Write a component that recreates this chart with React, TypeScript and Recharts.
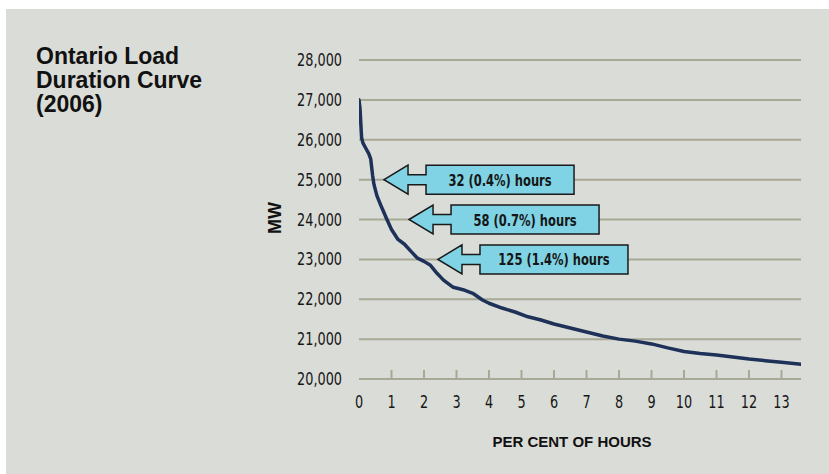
import React from "react";
import {
  LineChart,
  Line,
  XAxis,
  YAxis,
  CartesianGrid,
  ReferenceDot,
} from "recharts";

// Per cent of hours in the year (x) vs. Ontario load in MW (y)
const pctHours = [
  0, 0.03, 0.08, 0.12, 0.2, 0.3, 0.36, 0.42, 0.46, 0.55, 0.7, 0.86, 1.0, 1.2,
  1.4, 1.6, 1.8, 2.0, 2.2, 2.4, 2.6, 2.9, 3.2, 3.5, 3.8, 4.0, 4.4, 4.8, 5.2,
  5.6, 6.0, 6.5, 7.0, 7.5, 8.0, 8.5, 9.0, 9.5, 10.0, 10.5, 11.0, 11.5, 12.0,
  12.5, 13.0, 13.6,
];
const loadMW = [
  27000, 26800, 26050, 25920, 25800, 25650, 25520, 25100, 24880, 24600, 24300,
  24000, 23750, 23500, 23380, 23200, 23030, 22950, 22850, 22650, 22480, 22300,
  22240, 22150, 21980, 21900, 21780, 21680, 21560, 21480, 21380, 21280, 21180,
  21080, 21000, 20950, 20880, 20780, 20690, 20640, 20600, 20550, 20500, 20460,
  20420, 20370,
];

const yTicks = [20000, 21000, 22000, 23000, 24000, 25000, 26000, 27000, 28000];
const xTicks = [0, 1, 2, 3, 4, 5, 6, 7, 8, 9, 10, 11, 12, 13];

// callout arrows: label, and the point the arrow tip sits on
const calloutLabels = ["32 (0.4%) hours", "58 (0.7%) hours", "125 (1.4%) hours"];
const calloutX = [0.77, 1.54, 2.43];
const calloutY = [25000, 24000, 23000];

const data = pctHours.map((p, i) => ({ pct: p, mw: loadMW[i] }));

const BG = "#dadcd7";
const GRID = "#a8a995";
const LINE = "#1e3158";
const CYAN = "#7fd3e4";
const NARROW = "'DejaVu Sans Condensed', 'Liberation Sans Narrow', sans-serif";
const BOLD = "'Liberation Sans', Arial, sans-serif";

// squeeze text horizontally to get a tall, narrow face
const Squeezed = ({ x, y, anchor, size, bold, sx, children }: any) => (
  <text
    transform={`translate(${x},${y}) scale(${sx},1)`}
    textAnchor={anchor}
    fill="#161616"
    fontFamily={NARROW}
    fontWeight={bold ? "bold" : "normal"}
    fontSize={size}
  >
    {children}
  </text>
);

const XTick = (props: any) => {
  const { x, y, payload } = props;
  const axisY = y - 16;
  return (
    <g>
      {payload.value > 0 && (
        <line x1={x} x2={x} y1={axisY} y2={axisY - 9} stroke={GRID} strokeWidth={2} />
      )}
      <Squeezed x={x} y={y + 13} anchor="middle" size={17} sx={0.84}>
        {payload.value}
      </Squeezed>
    </g>
  );
};

const YTick = (props: any) => {
  const { x, y, payload } = props;
  return (
    <Squeezed x={x} y={y + 6} anchor="end" size={17} sx={0.84}>
      {payload.value.toLocaleString("en-US")}
    </Squeezed>
  );
};

const Callout = (label: string) => (props: any) => {
  const { cx, cy } = props;
  const head = 24;
  const shaft = 18;
  const box = 148;
  const h = 14.5;
  const s = 5;
  const x1 = cx + head;
  const x2 = x1 + shaft;
  const x3 = x2 + box;
  const pts = [
    [cx, cy],
    [x1, cy - h],
    [x1, cy - s],
    [x2, cy - s],
    [x2, cy - h],
    [x3, cy - h],
    [x3, cy + h],
    [x2, cy + h],
    [x2, cy + s],
    [x1, cy + s],
    [x1, cy + h],
  ]
    .map((p) => p.join(","))
    .join(" ");
  return (
    <g>
      <polygon points={pts} fill={CYAN} stroke="#1a1a1a" strokeWidth={1.5} />
      <Squeezed x={x2 + box / 2} y={cy + 6} anchor="middle" size={16} bold sx={0.8}>
        {label}
      </Squeezed>
    </g>
  );
};

export default function App() {
  return (
    <div
      style={{
        position: "absolute",
        left: 0,
        top: 0,
        width: 829,
        height: 474,
        background: "#fff",
        overflow: "hidden",
      }}
    >
      <div
        style={{
          position: "absolute",
          left: 6,
          top: 9,
          width: 823,
          height: 465,
          background: BG,
        }}
      />
      <div
        style={{
          position: "absolute",
          left: 36,
          top: 44,
          fontFamily: BOLD,
          fontWeight: "bold",
          fontSize: 23,
          lineHeight: "24px",
          color: "#111",
        }}
      >
        Ontario Load
        <br />
        Duration Curve
        <br />
        (2006)
      </div>
      <div
        style={{
          position: "absolute",
          left: 275,
          top: 218,
          transform: "translate(-50%, -50%) rotate(-90deg)",
          fontFamily: BOLD,
          fontWeight: "bold",
          fontSize: 18,
          color: "#111",
        }}
      >
        MW
      </div>
      <div
        style={{
          position: "absolute",
          left: 572,
          top: 441,
          transform: "translate(-50%, -50%)",
          fontFamily: BOLD,
          fontWeight: "bold",
          fontSize: 15,
          color: "#111",
          whiteSpace: "nowrap",
        }}
      >
        PER CENT OF HOURS
      </div>
      <div style={{ position: "absolute", left: 0, top: 0 }}>
        <LineChart
          width={829}
          height={474}
          data={data}
          margin={{ top: 60, right: 28, bottom: 65, left: 299 }}
        >
          <CartesianGrid
            horizontal
            vertical={false}
            stroke={GRID}
            strokeWidth={2}
          />
          <XAxis
            dataKey="pct"
            type="number"
            domain={[0, 13.6]}
            ticks={xTicks}
            height={30}
            axisLine={false}
            tickLine={false}
            tickSize={0}
            tickMargin={16}
            tick={<XTick />}
            allowDataOverflow
          />
          <YAxis
            type="number"
            domain={[20000, 28000]}
            ticks={yTicks}
            width={60}
            axisLine={false}
            tickLine={false}
            tickSize={6}
            tickMargin={11}
            tick={<YTick />}
          />
          <Line
            type="linear"
            dataKey="mw"
            stroke={LINE}
            strokeWidth={3.5}
            strokeLinecap="round"
            strokeLinejoin="round"
            dot={false}
            isAnimationActive={false}
          />
          {calloutLabels.map((label, i) => (
            <ReferenceDot
              key={label}
              x={calloutX[i]}
              y={calloutY[i]}
              r={0}
              shape={Callout(label)}
              ifOverflow="visible"
            />
          ))}
        </LineChart>
      </div>
    </div>
  );
}
